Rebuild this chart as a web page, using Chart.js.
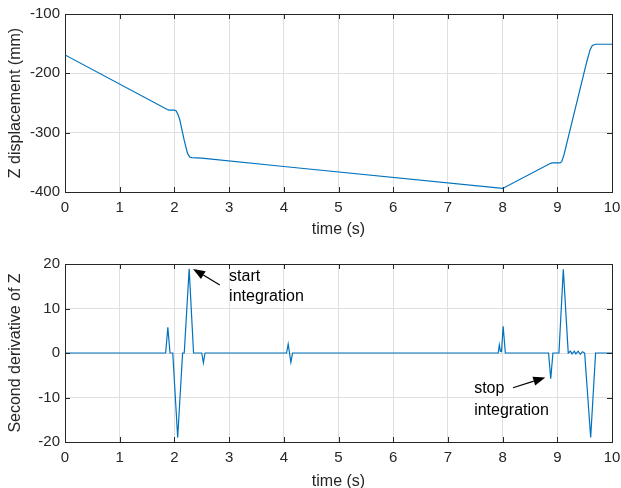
<!DOCTYPE html>
<html>
<head>
<meta charset="utf-8">
<script src="https://cdn.jsdelivr.net/npm/chart.js@4.4.1/dist/chart.umd.min.js"></script>
<style>
    html, body { margin: 0; padding: 0; background: #fff; overflow: hidden; }
    #wrap { position: relative; width: 621px; height: 488px; overflow: hidden; }
    #topBox { position: absolute; left: 0; top: 0; width: 621px; height: 244px; }
    #botBox { position: absolute; left: 0; top: 244px; width: 621px; height: 254px; }
</style>
</head>
<body>
<div id="wrap">
    <div id="topBox"><canvas id="chartZ"></canvas></div>
    <div id="botBox"><canvas id="chartAcc"></canvas></div>
</div>
<script>
// datos
const tiempoZ = [0, 1.87, 1.9, 2.0, 2.03, 2.07, 2.1, 2.14, 2.18, 2.24, 2.28, 2.32, 2.5, 4.0, 8.0, 8.87, 8.9, 9.05, 9.08, 9.12, 9.2, 9.54, 9.6, 9.64, 9.7, 10];
const desplZ = [-169, -261, -262, -262, -263, -270, -279, -296, -313, -335, -341, -342, -343, -357, -394, -352, -351, -351, -349, -338, -308, -180, -160, -153, -151, -151];

const tiempoAcc = [0, 1.84, 1.88, 1.92, 1.97, 2.06, 2.15, 2.18, 2.27, 2.35, 2.5, 2.53, 2.56,
    4.05, 4.08, 4.13, 4.16, 7.92, 7.94, 7.96, 7.98, 8.01, 8.05,
    8.84, 8.88, 8.92, 9.03, 9.11, 9.2, 9.24, 9.27, 9.31, 9.34, 9.38, 9.42, 9.46, 9.5, 9.61, 9.7, 10];
const accZ = [0, 0, 5.8, 0, 0, -19, 0, 0, 18.9, 0, 0, -2.2, 0,
    0, 2, -2.1, 0, 0, 1.8, 0.4, 0.3, 6, 0,
    0, -5.8, 0, 0, 18.8, 0, 0.4, -0.2, 0.4, -0.2, 0.4, -0.3, 0.3, 0, -19, 0, 0];

const ticksX = [0, 1, 2, 3, 4, 5, 6, 7, 8, 9, 10];
const ticksZ = [-400, -300, -200, -100];
const ticksAcc = [-20, -10, 0, 10, 20];

// anotaciones (en coordenadas de datos)
const notasAcc = [
    { lineas: ['start', 'integration'], x: 3.0, y: [16.1, 11.7], desde: [2.83, 15.3], hasta: [2.34, 18.9] },
    { lineas: ['stop', 'integration'], x: 7.48, y: [-9.1, -14.0], desde: [8.19, -7.8], hasta: [8.78, -5.5] }
];

document.addEventListener('DOMContentLoaded', function () {

    ///////////////////////////////////////////////////////////////////////////
    //////////////////////////  ESTILO  ///////////////////////////////////////
    ///////////////////////////////////////////////////////////////////////////

    const colorTexto = '#262626';
    const colorGrid = '#dfdfdf';
    const colorLinea = '#0072BD';
    const fuente = 'Arial, "Liberation Sans", sans-serif';

    // caja y marcas interiores estilo matlab + anotaciones
    const marcoPlugin = {
        id: 'marco',
        afterDatasetsDraw(chart, args, opts) {
            const ctx = chart.ctx;
            const a = chart.chartArea;
            const sx = chart.scales.x;
            const sy = chart.scales.y;
            ctx.save();
            ctx.strokeStyle = colorTexto;
            ctx.lineWidth = 1;
            ctx.beginPath();
            sx.ticks.forEach(function (t) {
                const px = Math.round(sx.getPixelForValue(t.value)) + 0.5;
                ctx.moveTo(px, a.bottom); ctx.lineTo(px, a.bottom - 5);
                ctx.moveTo(px, a.top); ctx.lineTo(px, a.top + 5);
            });
            sy.ticks.forEach(function (t) {
                const py = Math.round(sy.getPixelForValue(t.value)) + 0.5;
                ctx.moveTo(a.left, py); ctx.lineTo(a.left + 5, py);
                ctx.moveTo(a.right, py); ctx.lineTo(a.right - 5, py);
            });
            ctx.stroke();
            ctx.strokeRect(Math.round(a.left) + 0.5, Math.round(a.top) + 0.5,
                Math.round(a.right - a.left), Math.round(a.bottom - a.top));

            (opts.notas || []).forEach(function (n) {
                ctx.fillStyle = '#000';
                ctx.font = '16px ' + fuente;
                ctx.textAlign = 'left';
                ctx.textBaseline = 'alphabetic';
                n.lineas.forEach(function (txt, i) {
                    ctx.fillText(txt, sx.getPixelForValue(n.x), sy.getPixelForValue(n.y[i]));
                });
                const x0 = sx.getPixelForValue(n.desde[0]), y0 = sy.getPixelForValue(n.desde[1]);
                const x1 = sx.getPixelForValue(n.hasta[0]), y1 = sy.getPixelForValue(n.hasta[1]);
                const ang = Math.atan2(y1 - y0, x1 - x0);
                const largo = 12, ancho = 4.5;
                const bx = x1 - largo * Math.cos(ang), by = y1 - largo * Math.sin(ang);
                ctx.strokeStyle = '#000';
                ctx.lineWidth = 1.2;
                ctx.beginPath();
                ctx.moveTo(x0, y0); ctx.lineTo(bx, by);
                ctx.stroke();
                ctx.beginPath();
                ctx.moveTo(x1, y1);
                ctx.lineTo(bx + ancho * Math.sin(ang), by - ancho * Math.cos(ang));
                ctx.lineTo(bx - ancho * Math.sin(ang), by + ancho * Math.cos(ang));
                ctx.closePath();
                ctx.fill();
            });
            ctx.restore();
        }
    };

    ///////////////////////////////////////////////////////////////////////////
    //////////////////////////  GRÁFICOS  /////////////////////////////////////
    ///////////////////////////////////////////////////////////////////////////

    function crearGrafico(canvas, xs, ys, ticksY, etiquetaY, padTop, altoX, padTitulo, notas) {
        return new Chart(canvas, {
            type: 'line',
            data: {
                datasets: [{
                    data: xs.map(function (x, i) { return { x: x, y: ys[i] }; }),
                    borderColor: colorLinea,
                    borderWidth: 1.2,
                    pointRadius: 0,
                    tension: 0,
                    fill: false
                }]
            },
            options: {
                responsive: true,
                maintainAspectRatio: false,
                animation: false,
                layout: { padding: { top: padTop, right: 9, left: 0, bottom: 0 } },
                plugins: {
                    legend: { display: false },
                    tooltip: { enabled: false },
                    marco: { notas: notas }
                },
                scales: {
                    x: {
                        type: 'linear',
                        min: ticksX[0],
                        max: ticksX[ticksX.length - 1],
                        afterBuildTicks: function (s) { s.ticks = ticksX.map(function (v) { return { value: v }; }); },
                        afterFit: function (s) {
                            s.height = altoX;
                            s.paddingLeft = 0;
                            s.paddingRight = 0;
                        },
                        grid: { color: colorGrid, drawTicks: false },
                        border: { display: false },
                        ticks: { color: colorTexto, font: { family: fuente, size: 15 }, padding: 7, maxRotation: 0 },
                        title: { display: true, text: 'time (s)', color: colorTexto, font: { family: fuente, size: 16 }, padding: { top: 0, bottom: padTitulo } }
                    },
                    y: {
                        type: 'linear',
                        min: ticksY[0],
                        max: ticksY[ticksY.length - 1],
                        afterBuildTicks: function (s) { s.ticks = ticksY.map(function (v) { return { value: v }; }); },
                        afterFit: function (s) { s.width = 65; },
                        grid: { color: colorGrid, drawTicks: false },
                        border: { display: false },
                        ticks: { color: colorTexto, font: { family: fuente, size: 15 }, padding: 5 },
                        title: { display: true, text: etiquetaY, color: colorTexto, font: { family: fuente, size: 16 }, padding: { top: 6, bottom: 0 } }
                    }
                }
            },
            plugins: [marcoPlugin]
        });
    }

    crearGrafico(document.getElementById('chartZ'), tiempoZ, desplZ, ticksZ,
        'Z displacement (mm)', 13, 52, 5, []);

    crearGrafico(document.getElementById('chartAcc'), tiempoAcc, accZ, ticksAcc,
        'Second derivative of Z', 20, 56, 7, notasAcc);

});
</script>
</body>
</html>
